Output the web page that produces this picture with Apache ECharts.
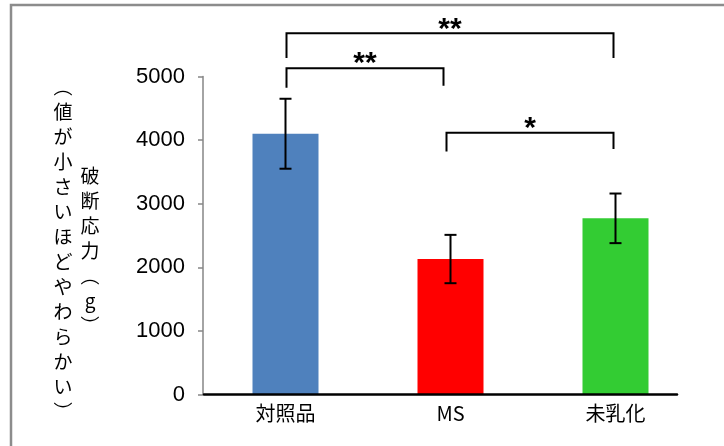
<!DOCTYPE html>
<html>
<head>
<meta charset="utf-8">
<script src="https://cdn.jsdelivr.net/npm/echarts@6/dist/echarts.min.js"></script>
<style>
  html, body { margin: 0; padding: 0; background: #fff; }
  #chart { width: 724px; height: 446px; }
</style>
</head>
<body>
<div id="chart"></div>
<script>
// Breaking stress by sample (mean ± error)
const categories = ['対照品', 'MS', '未乳化'];
const means = [4100, 2130, 2770];
const errors = [550, 380, 390];
const barColors = ['#4f81bd', '#ff0000', '#33cc33'];

const yTicks = { min: 0, max: 5000, interval: 1000 };

// Significance brackets: from / to category, bar height, leg ends, label
const bracketFrom = [0, 0, 1];
const bracketTo = [2, 1, 2];
const bracketTop = [5680, 5130, 4115];
const bracketLeftEnd = [5290, 4825, 3820];
const bracketRightEnd = [5290, 4855, 3860];
const bracketLabel = ['**', '**', '*'];

const yTitleOuter = ['︵', '値', 'が', '小', 'さ', 'い', 'ほ', 'ど', 'や', 'わ', 'ら', 'か', 'い', '︶'];
const yTitleInner = ['破', '断', '応', '力', '︵', 'g', '︶'];

const chart = echarts.init(document.getElementById('chart'));

const barData = means.map((v, i) => ({ value: v, itemStyle: { color: barColors[i] } }));
const errData = means.map((v, i) => [i, v - errors[i], v + errors[i]]);
const bracketData = bracketFrom.map((f, i) => [f, bracketTo[i], bracketTop[i], bracketLeftEnd[i], bracketRightEnd[i], i]);

const jpFont = '"Noto Sans CJK JP", "Noto Sans", sans-serif';

chart.setOption({
  animation: false,
  backgroundColor: '#ffffff',
  grid: [
    { left: 203, right: 26, top: 76.5, bottom: 51.5 },
    { left: 204, right: 47, top: 76.5, bottom: 51.5 }
  ],
  xAxis: [
    {
      type: 'category',
      gridIndex: 0,
      data: categories,
      axisLine: { show: false },
      axisTick: { show: false },
      axisLabel: { color: '#000', fontSize: 20, fontFamily: jpFont, margin: 9 }
    },
    {
      // baseline drawn under the bars
      type: 'value',
      gridIndex: 1,
      min: 0, max: 1,
      z: 5,
      axisLine: { show: true, onZero: false, lineStyle: { color: '#000', width: 2.5 } },
      axisTick: { show: false },
      axisLabel: { show: false },
      splitLine: { show: false }
    }
  ],
  yAxis: [
    {
      type: 'value',
      gridIndex: 0,
      min: yTicks.min, max: yTicks.max, interval: yTicks.interval,
      axisLine: { show: true, lineStyle: { color: '#868686', width: 1.5 } },
      axisTick: { show: true, length: 5, lineStyle: { color: '#868686', width: 1.5 } },
      axisLabel: {
        color: '#000', fontSize: 22,
        fontFamily: '"Liberation Sans", Arial, sans-serif',
        margin: 18,
        formatter: function (v) { return String(v); }
      },
      splitLine: { show: false }
    },
    {
      type: 'value',
      gridIndex: 1,
      show: false,
      min: 0, max: 1
    }
  ],
  graphic: [
    {
      type: 'rect',
      shape: { x: 11, y: 5, width: 800, height: 500 },
      style: { fill: 'none', stroke: '#8c8c8c', lineWidth: 2.5 },
      silent: true
    },
    {
      type: 'text',
      x: 63, y: 74,
      style: {
        text: yTitleOuter.join('\n'),
        font: '19px ' + jpFont,
        lineHeight: 25,
        textAlign: 'center',
        fill: '#000'
      }
    },
    {
      type: 'text',
      x: 90, y: 163,
      style: {
        text: yTitleInner.join('\n'),
        font: '19px ' + jpFont,
        lineHeight: 25,
        textAlign: 'center',
        fill: '#000'
      }
    }
  ],
  series: [
    {
      type: 'bar',
      xAxisIndex: 0, yAxisIndex: 0,
      data: barData,
      barWidth: '40%'
    },
    {
      type: 'custom',
      xAxisIndex: 0, yAxisIndex: 0,
      data: errData,
      z: 3,
      renderItem: function (params, api) {
        const x = api.coord([api.value(0), 0])[0];
        const lo = api.coord([api.value(0), api.value(1)])[1];
        const hi = api.coord([api.value(0), api.value(2)])[1];
        const cap = 6;
        const style = { stroke: '#000', lineWidth: 2 };
        return {
          type: 'group',
          children: [
            { type: 'line', shape: { x1: x, y1: lo, x2: x, y2: hi }, style: style },
            { type: 'line', shape: { x1: x - cap, y1: hi, x2: x + cap, y2: hi }, style: style },
            { type: 'line', shape: { x1: x - cap, y1: lo, x2: x + cap, y2: lo }, style: style }
          ]
        };
      }
    },
    {
      type: 'custom',
      xAxisIndex: 0, yAxisIndex: 0,
      data: bracketData,
      clip: false,
      z: 3,
      renderItem: function (params, api) {
        const from = api.value(0), to = api.value(1);
        // legs resting on the middle bar are nudged apart
        let x1 = api.coord([from, 0])[0] + (from === 1 ? -4 : 1);
        let x2 = api.coord([to, 0])[0] + (to === 1 ? -7 : 0) + (to === 2 ? -2 : 0);
        const yTop = api.coord([from, api.value(2)])[1];
        const yL = api.coord([from, api.value(3)])[1];
        const yR = api.coord([to, api.value(4)])[1];
        const style = { stroke: '#000', lineWidth: 2, fill: 'none' };
        return {
          type: 'group',
          children: [
            { type: 'polyline', shape: { points: [[x1, yL], [x1, yTop], [x2, yTop], [x2, yR]] }, style: style },
            {
              type: 'text',
              x: (x1 + x2) / 2, y: yTop - 4,
              style: {
                text: bracketLabel[api.value(5)],
                font: 'bold 30px "Liberation Sans", Arial, sans-serif',
                textAlign: 'center',
                textVerticalAlign: 'middle',
                fill: '#000'
              }
            }
          ]
        };
      }
    }
  ]
});
</script>
</body>
</html>
